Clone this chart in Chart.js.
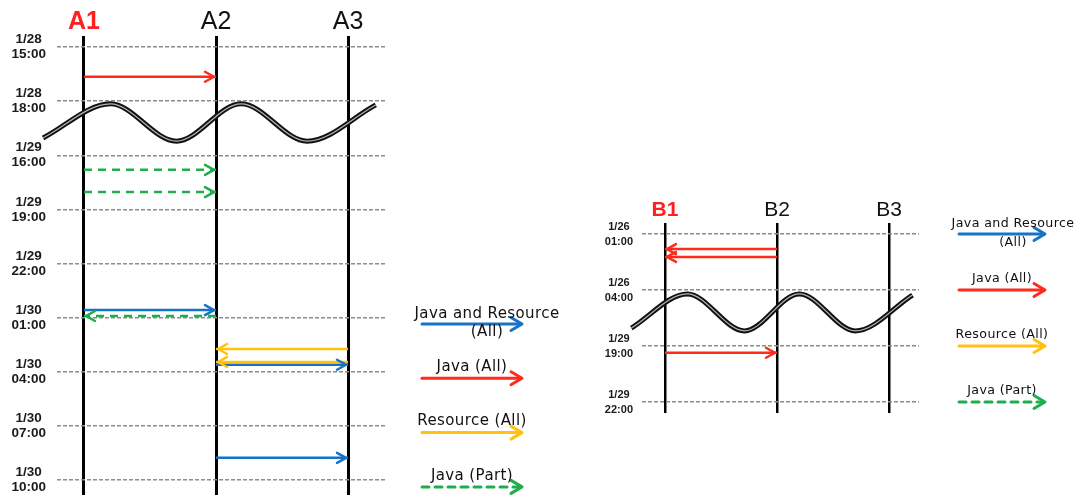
<!DOCTYPE html>
<html>
<head>
<meta charset="utf-8">
<script src="https://cdn.jsdelivr.net/npm/chart.js@4.4.1/dist/chart.umd.min.js"></script>
<style>
  html, body { margin: 0; padding: 0; background: #fff; overflow: hidden; width: 1083px; height: 495px; }
  canvas { position: absolute; }
  #left { left: 0; top: 0; }
  #right { left: 596px; top: 190px; }
</style>
</head>
<body>
<canvas id="left" width="600" height="521"></canvas>
<canvas id="right" width="487" height="247"></canvas>
<script>
// nodes (columns) and time slots (rows)
var leftNodes = ['A1', 'A2', 'A3'];
var leftTimes = [['1/28', '15:00'], ['1/28', '18:00'], ['1/29', '16:00'], ['1/29', '19:00'], ['1/29', '22:00'],
                 ['1/30', '01:00'], ['1/30', '04:00'], ['1/30', '07:00'], ['1/30', '10:00']];
// transfers: from node, to node, time (in slot units), kind
var leftFrom = [0, 0, 0, 0, 1, 2, 2, 1, 1];
var leftTo   = [1, 1, 1, 1, 0, 1, 1, 2, 2];
var leftTime = [0.55, 2.27, 2.68, 4.86, 4.97, 5.58, 5.82, 5.87, 7.59];
var leftKind = ['java', 'part', 'part', 'both', 'part', 'res', 'res', 'both', 'both'];
// break marker (wave)
var leftWaveX = [-0.31, 0.2, 0.7, 1.19, 1.69, 2.21];
var leftWaveY = [1.68, 1.05, 1.74, 1.05, 1.74, 1.07];

var rightNodes = ['B1', 'B2', 'B3'];
var rightTimes = [['1/26', '01:00'], ['1/26', '04:00'], ['1/29', '19:00'], ['1/29', '22:00']];
var rightFrom = [1, 1, 0];
var rightTo   = [0, 0, 1];
var rightTime = [0.27, 0.41, 2.12];
var rightKind = ['java', 'java', 'java'];
var rightWaveX = [-0.3, 0.2, 0.71, 1.2, 1.7, 2.21];
var rightWaveY = [1.68, 1.07, 1.73, 1.07, 1.73, 1.09];

var legendLabels = [['Java and Resource', '(All)'], ['Java (All)'], ['Resource (All)'], ['Java (Part)']];
var legendKinds = ['both', 'java', 'res', 'part'];

var kindStyle = {
  both: { color: '#1673c6', dash: false },
  java: { color: '#ff2b1c', dash: false },
  res:  { color: '#ffc20e', dash: false },
  part: { color: '#1fae4e', dash: true }
};

function drawArrow(ctx, x1, x2, y, color, width, dash, head) {
  var dir = x2 > x1 ? 1 : -1;
  ctx.save();
  ctx.strokeStyle = color;
  ctx.lineWidth = width;
  ctx.lineCap = 'round';
  ctx.lineJoin = 'round';
  ctx.setLineDash(dash);
  ctx.beginPath();
  ctx.moveTo(x1, y);
  ctx.lineTo(x2 - dir * 2, y);
  ctx.stroke();
  ctx.setLineDash([]);
  ctx.beginPath();
  ctx.moveTo(x2 - dir * head[0], y - head[1]);
  ctx.lineTo(x2, y);
  ctx.lineTo(x2 - dir * head[0], y + head[1]);
  ctx.stroke();
  ctx.restore();
}

var arrowHeads = {
  id: 'arrowHeads',
  afterDatasetsDraw: function (chart) {
    var ctx = chart.ctx;
    chart.data.datasets.forEach(function (ds, i) {
      if (!ds.arrow) return;
      var pts = chart.getDatasetMeta(i).data;
      var a = pts[0], b = pts[pts.length - 1];
      var dir = b.x > a.x ? 1 : -1;
      var tip = b.x - dir * 2;
      ctx.save();
      ctx.strokeStyle = ds.borderColor;
      ctx.lineWidth = ds.borderWidth;
      ctx.lineCap = 'round';
      ctx.lineJoin = 'round';
      ctx.beginPath();
      ctx.moveTo(tip - dir * 9, b.y - 5);
      ctx.lineTo(tip, b.y);
      ctx.lineTo(tip - dir * 9, b.y + 5);
      ctx.stroke();
      ctx.restore();
    });
  }
};

var arrowLegend = {
  id: 'arrowLegend',
  afterDraw: function (chart, args, o) {
    var ctx = chart.ctx;
    var cx = (o.left + o.right) / 2;
    legendLabels.forEach(function (lines, i) {
      var y = o.top + i * o.step;
      var st = kindStyle[legendKinds[i]];
      drawArrow(ctx, o.left, o.right, y, st.color, 3, st.dash ? [7, 6] : [], [11, 6.5]);
      ctx.save();
      ctx.font = o.fontSize + 'px "DejaVu Sans"';
      ctx.letterSpacing = o.spacing + 'px';
      ctx.fillStyle = '#111';
      ctx.textAlign = 'center';
      ctx.textBaseline = 'middle';
      if (lines.length > 1) {
        ctx.fillText(lines[0], cx + o.shift, y - o.above + 1);
        ctx.fillText(lines[1], cx + o.shift, y + o.below);
      } else {
        ctx.fillText(lines[0], cx, y - o.above);
      }
      ctx.restore();
    });
  }
};

function arrowSets(from, to, time, kinds) {
  return time.map(function (t, i) {
    var st = kindStyle[kinds[i]];
    return {
      data: [{ x: from[i], y: t }, { x: to[i], y: t }],
      borderColor: st.color,
      borderWidth: 2.5,
      borderDash: st.dash ? [8, 6] : [],
      pointRadius: 0,
      arrow: true,
      order: 0
    };
  });
}

function waveSets(xs, ys) {
  var pts = xs.map(function (x, i) { return { x: x, y: ys[i] }; });
  return [
    { data: pts, borderColor: '#b4b4b4', borderWidth: 1.2, pointRadius: 0, cubicInterpolationMode: 'monotone', clip: false, order: 0 },
    { data: pts, borderColor: '#111', borderWidth: 5, pointRadius: 0, cubicInterpolationMode: 'monotone', clip: false, order: 1 }
  ];
}

function makeChart(id, cfg) {
  var nodes = cfg.nodes, times = cfg.times;
  return new Chart(document.getElementById(id), {
    type: 'line',
    data: {
      datasets: waveSets(cfg.waveX, cfg.waveY).concat(arrowSets(cfg.from, cfg.to, cfg.time, cfg.kind))
    },
    options: {
      responsive: false,
      animation: false,
      devicePixelRatio: 1,
      layout: { padding: { right: cfg.padRight } },
      plugins: {
        legend: { display: false },
        tooltip: { enabled: false },
        arrowLegend: cfg.legend
      },
      scales: {
        x: {
          type: 'linear',
          position: 'top',
          bounds: 'data',
          min: cfg.xMin,
          max: cfg.xMax,
          afterBuildTicks: function (s) { s.ticks = nodes.map(function (n, i) { return { value: i }; }); },
          afterFit: function (s) { s.height = cfg.headH; },
          grid: { color: '#000', lineWidth: cfg.colW, drawTicks: false },
          border: { display: false },
          ticks: {
            autoSkip: false,
            maxRotation: 0,
            padding: cfg.headPad,
            callback: function (v, i) { return nodes[i]; },
            color: function (c) { return c.index === 0 ? '#ff1f1f' : '#111'; },
            font: function (c) {
              return { family: 'Liberation Sans', size: cfg.headSize, weight: c.index === 0 ? 'bold' : 'normal', lineHeight: 1 };
            }
          }
        },
        y: {
          type: 'linear',
          reverse: true,
          bounds: 'data',
          min: cfg.yMin,
          max: cfg.yMax,
          afterBuildTicks: function (s) { s.ticks = times.map(function (t, i) { return { value: i }; }); },
          afterFit: function (s) { s.width = cfg.axisW; },
          grid: { color: '#8c8c8c', lineWidth: 1.5, drawTicks: false },
          border: { display: false, dash: [4, 2] },
          ticks: {
            autoSkip: false,
            crossAlign: 'center',
            padding: cfg.tickPad,
            color: '#1a1a1a',
            callback: function (v, i) { return times[i]; },
            font: { family: 'Liberation Sans', size: cfg.tickSize, weight: 'bold', lineHeight: '15px' }
          }
        }
      }
    },
    plugins: [arrowHeads, arrowLegend]
  });
}

makeChart('left', {
  nodes: leftNodes, times: leftTimes,
  from: leftFrom, to: leftTo, time: leftTime, kind: leftKind,
  waveX: leftWaveX, waveY: leftWaveY,
  xMin: -0.2045, xMax: 2.28, yMin: -0.2032, yMax: 8.277,
  padRight: 215, headH: 36, headPad: 1, headSize: 25, colW: 3,
  axisW: 57, tickPad: 11, tickSize: 13.5,
  legend: { left: 422, right: 522, top: 324, step: 54.3, above: 11, below: 8, shift: 15, fontSize: 15, spacing: 0.4 }
});

makeChart('right', {
  nodes: rightNodes, times: rightTimes,
  from: rightFrom, to: rightTo, time: rightTime, kind: rightKind,
  waveX: rightWaveX, waveY: rightWaveY,
  xMin: -0.205, xMax: 2.268, yMin: -0.196, yMax: 3.196,
  padRight: 164, headH: 33, headPad: 2.5, headSize: 21, colW: 2.5,
  axisW: 46, tickPad: 9, tickSize: 11,
  legend: { left: 363, right: 449, top: 44, step: 56, above: 11, below: 9, shift: 11, fontSize: 12.6, spacing: 0.4 }
});
</script>
</body>
</html>
